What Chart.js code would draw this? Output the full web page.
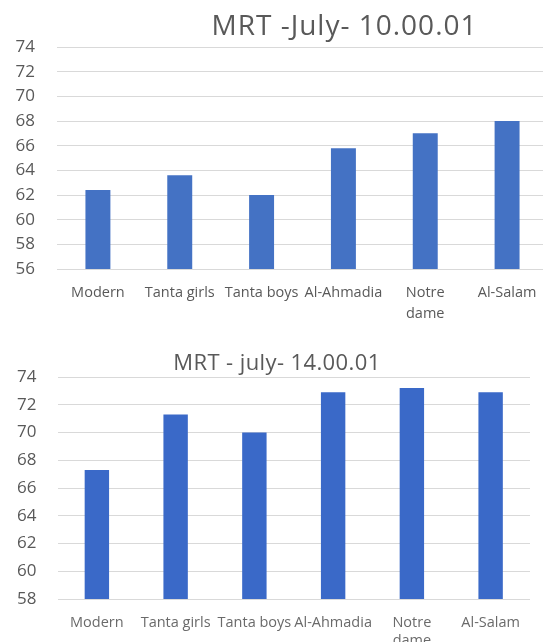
<!DOCTYPE html>
<html>
<head>
<meta charset="utf-8">
<script src="https://cdn.jsdelivr.net/npm/chart.js@4/dist/chart.umd.min.js"></script>
<style>
  html, body { margin: 0; padding: 0; background: #fff; }
  #wrap { position: relative; width: 543px; height: 642px; overflow: hidden; background: #fff; }
  #c1 { position: absolute; left: 0; top: 0; }
  #c2 { position: absolute; left: 0; top: 330px; filter: blur(0.5px); }
</style>
</head>
<body>
<div id="wrap">
  <canvas id="c1" width="560" height="330"></canvas>
  <canvas id="c2" width="543" height="312"></canvas>
</div>
<script>
// Schools on the category axis (one label is split over two lines)
const schools = ['Modern', 'Tanta girls', 'Tanta boys', 'Al-Ahmadia', ['Notre', 'dame'], 'Al-Salam'];

// MRT readings, July, 10.00.01
const mrtMorning = [62.4, 63.6, 62.0, 65.8, 67.0, 68.0];
// MRT readings, July, 14.00.01
const mrtAfternoon = [67.3, 71.3, 70.0, 72.9, 73.2, 72.9];

const titleMorning = 'MRT -July- 10.00.01';
const titleAfternoon = 'MRT - july- 14.00.01';

const axisMorning = { min: 56, max: 74, step: 2 };
const axisAfternoon = { min: 58, max: 74, step: 2 };

// Draws a title at a fixed position above the plot
const headline = {
  id: 'headline',
  afterDraw(chart, args, opts) {
    const ctx = chart.ctx;
    ctx.save();
    ctx.font = opts.font;
    ctx.fillStyle = opts.color;
    ctx.textAlign = 'center';
    ctx.textBaseline = 'alphabetic';
    if ('letterSpacing' in ctx) ctx.letterSpacing = opts.spacing || '0px';
    ctx.fillText(opts.text, opts.x, opts.y);
    ctx.restore();
  }
};

function makeChart(canvasId, values, axis, cfg) {
  return new Chart(document.getElementById(canvasId), {
    type: 'bar',
    data: {
      labels: schools,
      datasets: [{
        data: values,
        backgroundColor: cfg.barColor,
        borderWidth: 0,
        barPercentage: cfg.barPct,
        categoryPercentage: 1
      }]
    },
    options: {
      responsive: false,
      animation: false,
      layout: { padding: cfg.padding },
      plugins: {
        legend: { display: false },
        tooltip: { enabled: false },
        title: { display: false },
        headline: cfg.title
      },
      scales: {
        x: {
          grid: { display: false },
          border: { display: false },
          ticks: {
            color: cfg.xColor,
            font: { family: 'Open Sans', size: cfg.xFont, lineHeight: cfg.xLine },
            padding: cfg.xPad,
            maxRotation: 0,
            autoSkip: false
          },
          afterFit(scale) { scale.height = cfg.xHeight; }
        },
        y: {
          min: axis.min,
          max: axis.max,
          grid: { color: '#d9d9d9', lineWidth: 1, drawTicks: false },
          border: { display: false },
          ticks: {
            stepSize: axis.step,
            color: '#595959',
            font: { family: 'Open Sans', size: 17 },
            padding: cfg.yPad
          },
          afterFit(scale) { scale.width = cfg.yWidth; }
        }
      }
    },
    plugins: [headline]
  });
}

makeChart('c1', mrtMorning, axisMorning, {
  barColor: '#4472C4',
  barPct: 0.305,
  padding: { top: 47, bottom: 9, left: 0, right: 12 },
  xFont: 14.5, xLine: 1.4, xPad: 6, xHeight: 52, xColor: '#595959',
  yPad: 22, yWidth: 57,
  title: { text: titleMorning, x: 344.5, y: 35, font: '28px "Open Sans"', color: '#595959', spacing: '1px' }
});

makeChart('c2', mrtAfternoon, axisAfternoon, {
  barColor: '#3A69C8',
  barPct: 0.31,
  padding: { top: 47, bottom: 0, left: 0, right: 13 },
  xFont: 14.5, xLine: 1.25, xPad: 7, xHeight: 43, xColor: '#6a6a6a',
  yPad: 21, yWidth: 57.5,
  title: { text: titleAfternoon, x: 277, y: 39.5, font: '22px "Open Sans"', color: '#595959', spacing: '0.4px' }
});
</script>
</body>
</html>
